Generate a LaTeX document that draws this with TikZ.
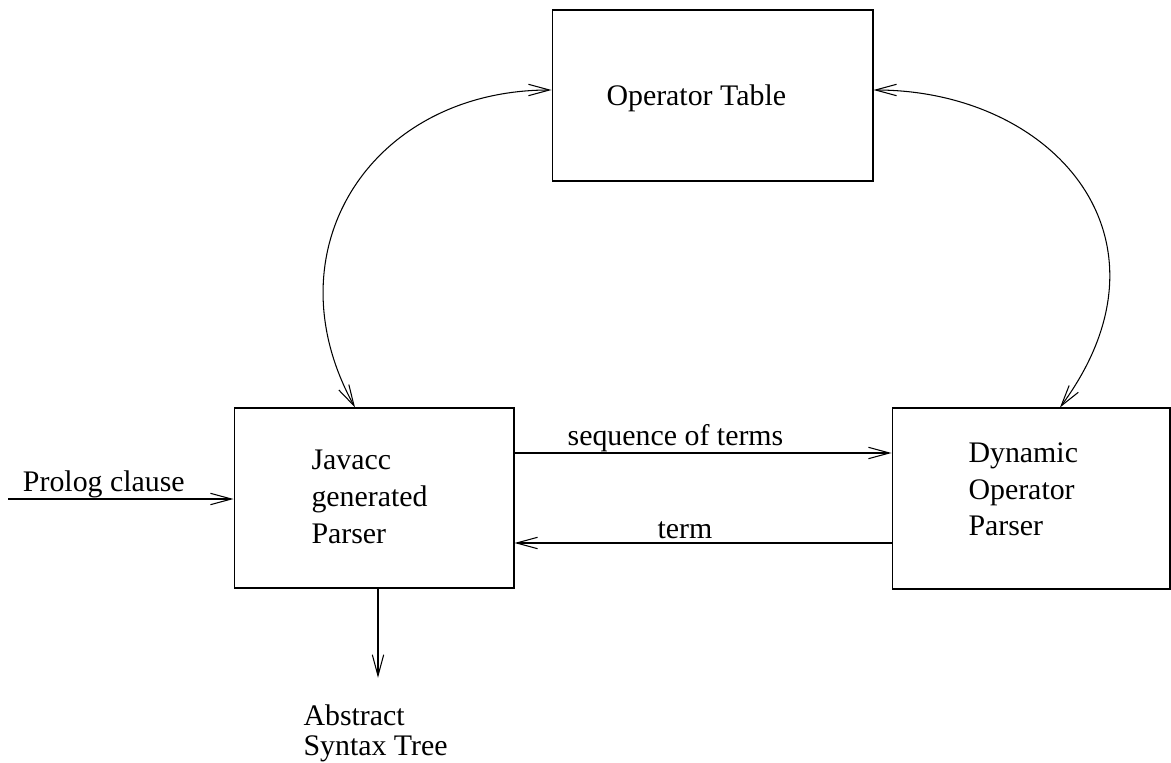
\documentclass[tikz,border=0pt]{standalone}
\usepackage{fontspec}
\setmainfont{Liberation Serif}
\usetikzlibrary{arrows.meta}

\begin{document}
\begin{tikzpicture}[x=0.02cm, y=0.02cm,
    line width=0.6pt,
    >={Straight Barb[length=12pt,width=6.5pt]},
    font=\fontsize{17}{21}\selectfont,
    box/.style={draw, inner sep=0pt},
    boxtext/.style={align=left, inner sep=0pt, anchor=north west}]
  % 边界
  \useasboundingbox (0, 0) rectangle (1171, 762);

  % 三个方框
  \node[box, minimum width=6.42cm, minimum height=3.42cm] (optable) at (712.5, 666.5) {};
  \node[box, minimum width=5.6cm, minimum height=3.6cm] (javacc) at (374, 264) {};
  \node[box, minimum width=5.56cm, minimum height=3.62cm] (dynamic) at (1031, 263.5) {};

  % 方框中的文字
  \node[anchor=base west, inner sep=0pt] (optabletext) at (606, 656) {Operator Table};
  \node[boxtext] (javacctext) at (311, 312.8) {Javacc\\generated\\Parser};
  \node[boxtext] (dynamictext) at (968, 320.1) {Dynamic\\Operator\\Parser};

  % 输入与输出
  \coordinate (prolog) at (8, 263);
  \draw[->] (prolog) -- node[pos=0.425, anchor=base, yshift=4pt] {Prolog clause} (javacc.west |- prolog);
  \node[boxtext, font=\fontsize{17}{17}\selectfont] (ast) at (303, 57.7) {Abstract\\Syntax Tree};
  \draw[->] (javacc.south -| 378,0) -- ([yshift=0.53cm]ast.north -| 378,0);

  % 两个解析器之间
  \draw[->] (javacc.east |- 0,309) -- node[pos=0.427, anchor=base, yshift=4.5pt] {sequence of terms} (dynamic.west |- 0,309);
  \draw[->] (dynamic.west |- 0,219) -- node[pos=0.548, anchor=base, yshift=2.8pt] {term} (javacc.east |- 0,219);

  % 操作符表的双向曲线
  \draw[<->] (javacc.north -| 355,0) .. controls (267.7, 512.5) and (372, 672) .. (optable.west |- 0,672);
  \draw[<->] (dynamic.north -| 1060,0) .. controls (1185, 523.8) and (1053, 672) .. (optable.east |- 0,672);

\end{tikzpicture}
\end{document}
